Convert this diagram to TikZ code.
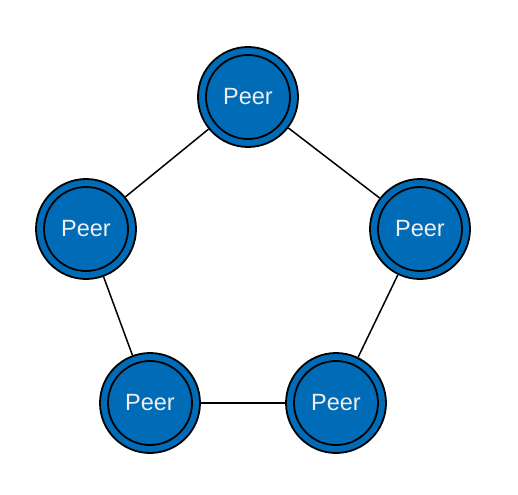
\documentclass[tikz,border=0pt]{standalone}
\usepackage{fontspec}
\setmainfont{Liberation Sans}
\definecolor{peerblue}{RGB}{0,107,182}
\definecolor{peertext}{RGB}{238,238,238}
\begin{document}
\begin{tikzpicture}[x=1pt,y=-1pt,
  peer/.style={circle,draw=black,line width=1.8pt,fill=peerblue,minimum size=100pt,inner sep=0pt,
    text=peertext,font=\fontsize{23.5}{27}\selectfont},
  link/.style={draw=black,line width=1.5pt}]
\useasboundingbox (0,0) rectangle (518,494);
\node[peer] (top) at (248,97) {};
\node[peer] (left) at (86,229) {};
\node[peer] (right) at (420,229) {};
\node[peer] (bl) at (150,403) {};
\node[peer] (br) at (336,403) {};
\foreach \n in {top,left,right,bl,br}{
  \draw[line width=1.8pt] (\n.center) circle (42);
  \node[text=peertext,font=\fontsize{23.5}{27}\selectfont] at (\n.center) {Peer};
}
\draw[link] (top) -- (left);
\draw[link] (top) -- (right);
\draw[link] (left) -- (bl);
\draw[link] (right) -- (br);
\draw[link] (bl) -- (br);
\end{tikzpicture}
\end{document}
